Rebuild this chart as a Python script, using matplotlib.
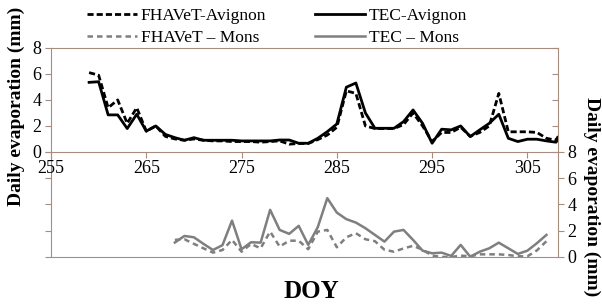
import matplotlib
matplotlib.use("Agg")
import matplotlib.pyplot as plt

plt.rcParams['font.family'] = ['Liberation Serif', 'DejaVu Serif']

# DOY for each site
days_avignon = list(range(259, 310))
days_mons = list(range(268, 308))

# daily evaporation (mm), Avignon
fhavet_avignon = [6.1, 5.9, 3.4, 4.0, 2.2, 3.4, 1.6, 2.0, 1.2, 1.0,
                  0.9, 1.0, 0.9, 0.85, 0.85, 0.8, 0.8, 0.8, 0.75, 0.8,
                  0.85, 0.6, 0.65, 0.65, 0.95, 1.3, 1.9, 4.7, 4.5, 2.0,
                  1.8, 1.8, 1.8, 2.1, 3.0, 2.0, 0.8, 1.5, 1.5, 1.9,
                  1.2, 1.5, 2.0, 4.5, 1.55, 1.55, 1.55, 1.5, 1.05, 0.9,
                  2.2]
tec_avignon = [5.35, 5.4, 2.85, 2.85, 1.8, 2.9, 1.6, 2.0, 1.35, 1.1,
               0.9, 1.1, 0.9, 0.9, 0.9, 0.9, 0.85, 0.85, 0.85, 0.85,
               0.92, 0.92, 0.67, 0.67, 1.05, 1.56, 2.15, 4.98, 5.3, 3.0,
               1.82, 1.82, 1.82, 2.33, 3.23, 2.2, 0.67, 1.75, 1.7, 2.0,
               1.18, 1.7, 2.2, 2.9, 1.05, 0.8, 0.98, 0.98, 0.85, 0.75,
               1.8]

# daily evaporation (mm), Mons
fhavet_mons = [1.3, 1.35, 1.0, 0.66, 0.33, 0.53, 1.3, 0.4, 0.99, 0.66,
               1.93, 0.79, 1.24, 1.24, 0.59, 1.93, 2.06, 0.74, 1.5, 1.81,
               1.35, 1.2, 0.55, 0.4, 0.65, 0.85, 0.55, 0.1, 0.0, 0.0,
               0.1, 0.05, 0.2, 0.2, 0.2, 0.15, 0.05, 0.05, 0.5, 1.2]
tec_mons = [1.1, 1.6, 1.5, 1.0, 0.53, 0.9, 2.77, 0.59, 1.12, 1.09,
            3.59, 2.06, 1.76, 2.37, 0.92, 2.27, 4.48, 3.38, 2.88, 2.62,
            2.19, 1.68, 1.17, 1.93, 2.06, 1.3, 0.48, 0.28, 0.33, 0.08,
            0.92, 0.02, 0.4, 0.66, 1.09, 0.66, 0.23, 0.48, 1.05, 1.68]

xticks = [255, 265, 275, 285, 295, 305]
yticks = [0, 2, 4, 6, 8]

spine_col = '#a88c80'
gray = '#7f7f7f'

fig = plt.figure(figsize=(6.02, 3.07), dpi=100)
ax2 = fig.add_axes([0.0847, 0.163, 0.842, 0.342])
ax1 = fig.add_axes([0.0847, 0.505, 0.842, 0.339])
ax1.set_facecolor('none')
ax2.set_facecolor('none')

l1, = ax1.plot(days_avignon, fhavet_avignon, color='black', lw=2.0,
               dashes=(2.2, 1.1), label='FHAVeT-Avignon')
l2, = ax1.plot(days_avignon, tec_avignon, color='black', lw=2.0,
               label='TEC-Avignon')
l3, = ax2.plot(days_mons, fhavet_mons, color=gray, lw=1.8,
               dashes=(2.2, 1.6), label='FHAVeT \u2013 Mons')
l4, = ax2.plot(days_mons, tec_mons, color=gray, lw=1.8,
               label='TEC \u2013 Mons')

for ax in (ax1, ax2):
    ax.set_xlim(255, 308.2)
    ax.set_ylim(0, 8)
    ax.set_xticks(xticks)
    ax.set_yticks(yticks)
    for s in ax.spines.values():
        s.set_color(spine_col)
        s.set_linewidth(0.8)
    ax.tick_params(colors=spine_col, labelcolor='black', labelsize=13,
                   length=4, width=0.8)

# top panel: labels on left and bottom, inner ticks on right
ax1.tick_params(axis='x', direction='out', pad=2)
ax1.tick_params(axis='y', direction='out', pad=3)
ax1r = ax1.twinx()
ax1r.set_ylim(0, 8)
ax1r.set_yticks(yticks)
ax1r.tick_params(axis='y', direction='in', colors=spine_col,
                 labelright=False, length=4, width=0.8)
for s in ax1r.spines.values():
    s.set_visible(False)

# bottom panel: labels on right, no x ticks
ax2.tick_params(axis='x', bottom=False, labelbottom=False)
ax2.tick_params(axis='y', left=True, right=True, labelleft=False,
                labelright=True, direction='out', pad=3)
ax2.spines['top'].set_visible(False)

fig.text(0.027, 1 - 106 / 307, 'Daily evaporation (mm)', rotation=90,
         ha='center', va='center', fontsize=14, fontweight='bold')
fig.text(0.982, 1 - 197 / 307, 'Daily evaporation (mm)', rotation=270,
         ha='center', va='center', fontsize=14, fontweight='bold')
fig.text(0.517, 1 - 292 / 307, 'DOY', ha='center', va='center',
         fontsize=18, fontweight='bold')

fig.legend(handles=[l1, l3, l2, l4], ncol=2, loc='upper center',
           bbox_to_anchor=(0.46, 1.025), frameon=False, fontsize=12.5,
           handlelength=2.9, handletextpad=0.2, columnspacing=2.8,
           labelspacing=0.35)

fig.savefig('out.png', dpi=100)
